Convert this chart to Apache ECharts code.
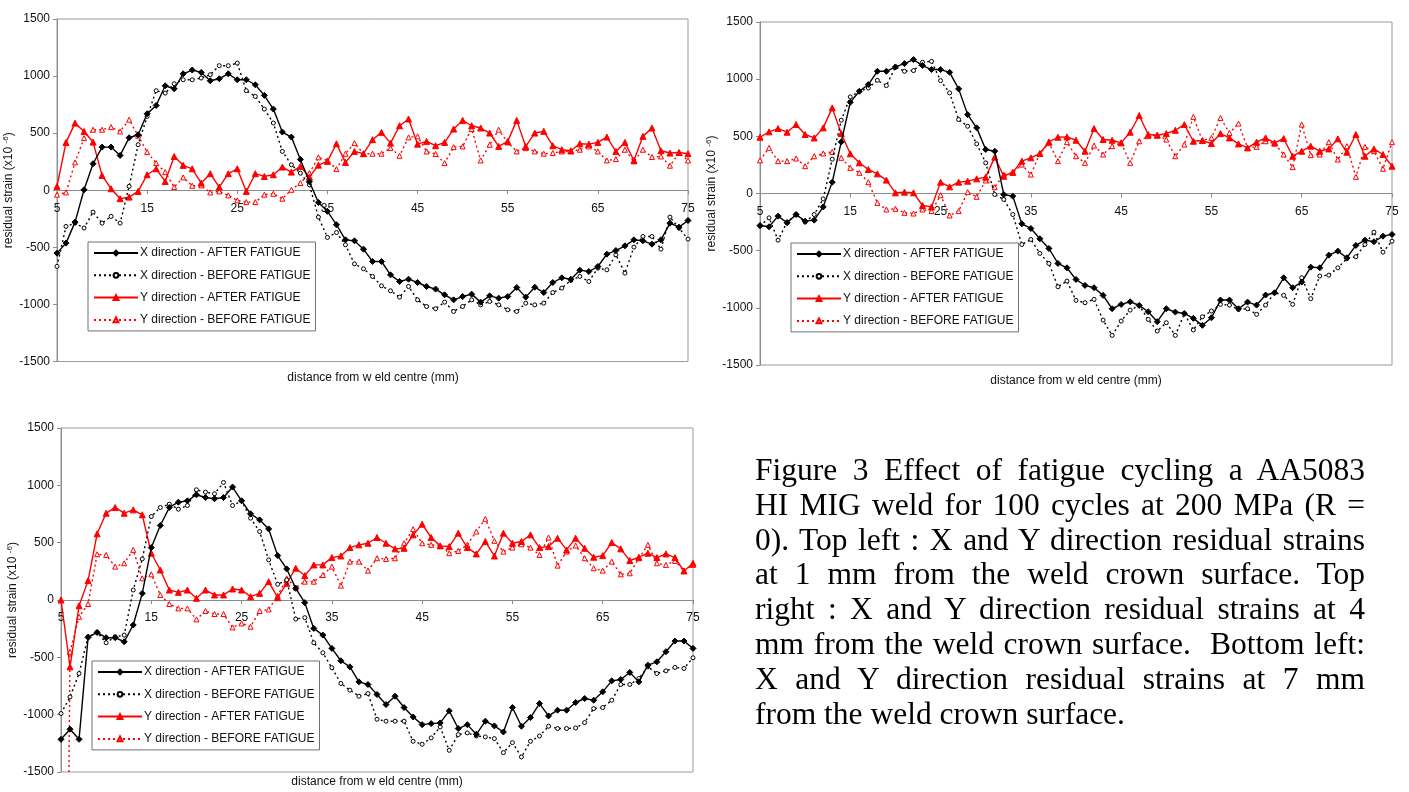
<!DOCTYPE html>
<html>
<head>
<meta charset="utf-8">
<script src="https://cdn.jsdelivr.net/npm/echarts@6/dist/echarts.min.js"></script>
<style>
  html, body { margin: 0; padding: 0; background: #fff; }
  #chart { position: absolute; left: 0; top: 0; width: 1409px; height: 792px; }
  #caption { position: absolute; left: 755px; top: 453px; width: 610px;
    font-family: "Liberation Serif", "Times New Roman", serif; font-size: 31.5px;
    line-height: 34.8px; color: #000; }
  #caption div { text-align: justify; text-align-last: justify; white-space: nowrap; }
  #caption div.last { text-align: left; text-align-last: left; }
</style>
</head>
<body>
<div id="chart"></div>
<div id="caption">
  <div>Figure 3 Effect of fatigue cycling a AA5083</div>
  <div>HI MIG weld for 100 cycles at 200 MPa (R =</div>
  <div>0). Top left : X and Y direction residual strains</div>
  <div>at 1 mm from the weld crown surface. Top</div>
  <div>right : X and Y direction residual strains at 4</div>
  <div>mm from the weld crown surface.&nbsp; Bottom left:</div>
  <div>X and Y direction residual strains at 7 mm</div>
  <div class="last">from the weld crown surface.</div>
</div>
<script>
// distance from weld centre (mm)
const distance = [5,6,7,8,9,10,11,12,13,14,15,16,17,18,19,20,21,22,23,24,25,26,27,28,29,30,31,32,33,34,35,36,37,38,39,40,41,42,43,44,45,46,47,48,49,50,51,52,53,54,55,56,57,58,59,60,61,62,63,64,65,66,67,68,69,70,71,72,73,74,75];
const xTickLabels = ['5','15','25','35','45','55','65','75'];
const yMin = -1500, yMax = 1500, yStep = 500;

const seriesNames = ['X direction - AFTER FATIGUE', 'X direction - BEFORE FATIGUE', 'Y direction - AFTER FATIGUE', 'Y direction - BEFORE FATIGUE'];

// Top left: 1 mm from weld crown surface
const p1XAfter = [-551,-463,-279,4,232,378,378,305,460,486,670,743,915,889,1020,1053,1032,959,977,1020,968,968,924,831,711,510,466,270,74,-107,-185,-302,-434,-443,-516,-624,-624,-741,-799,-779,-808,-843,-866,-916,-960,-931,-910,-980,-925,-945,-931,-852,-936,-849,-896,-808,-767,-779,-700,-712,-668,-560,-528,-487,-434,-443,-472,-434,-288,-323,-265];
const p1XBefore = [-667,-317,-288,-331,-191,-288,-229,-288,34,399,647,872,851,933,968,968,983,1012,1091,1091,1114,872,822,711,589,340,223,150,48,-235,-413,-370,-478,-645,-688,-755,-837,-881,-936,-843,-960,-1018,-1038,-980,-1062,-1018,-960,-1004,-974,-1004,-1047,-1062,-989,-1004,-989,-896,-857,-790,-755,-799,-682,-697,-565,-726,-498,-405,-405,-516,-235,-332,-428];
const p1YAfter = [34,419,588,515,422,130,13,-74,-60,-10,136,188,77,296,218,188,63,145,28,145,188,-10,145,121,136,203,159,209,115,220,253,407,244,340,320,443,507,413,565,624,404,428,390,419,536,612,565,545,501,384,428,612,384,501,516,390,355,346,407,404,419,466,340,419,261,472,545,346,326,331,320];
const p1YBefore = [-39,-19,244,457,530,530,553,515,618,478,334,238,159,28,112,39,42,-19,-10,-45,-89,-104,-104,-39,-31,-74,4,63,150,288,261,185,320,413,320,320,320,369,302,463,472,340,317,238,378,384,536,261,399,530,419,340,369,340,320,326,340,340,355,384,340,261,273,355,253,355,291,296,215,326,261];

// Top right: 4 mm from weld crown surface
const p2XAfter = [-280,-291,-198,-256,-184,-242,-233,-117,99,451,798,894,953,1069,1069,1107,1136,1171,1119,1084,1084,1060,915,690,574,385,370,-9,-23,-265,-306,-396,-481,-612,-650,-752,-804,-824,-891,-1008,-970,-947,-979,-1034,-1121,-1008,-1037,-1049,-1092,-1153,-1087,-932,-932,-1008,-950,-976,-888,-868,-737,-824,-775,-644,-650,-539,-504,-562,-454,-408,-422,-373,-358];
const p2XBefore = [-285,-213,-408,-250,-184,-250,-184,-47,300,641,845,894,923,990,944,1107,1069,1075,1148,1156,987,880,647,588,434,268,-9,-52,-184,-446,-402,-524,-612,-816,-766,-935,-955,-926,-1107,-1241,-1116,-1020,-979,-1101,-1203,-1130,-1241,-1049,-1194,-1078,-1028,-970,-976,-1014,-1008,-1057,-976,-868,-891,-970,-737,-920,-722,-714,-650,-571,-553,-446,-338,-513,-417];
const p2YAfter = [492,539,568,536,603,516,486,574,749,524,347,268,210,172,117,6,12,6,-105,-117,99,58,99,108,128,143,318,151,186,283,312,350,451,492,495,466,370,568,472,466,443,536,682,516,510,524,553,603,457,463,437,524,486,434,399,449,486,443,481,326,370,414,370,390,478,361,516,326,390,341,239];
const p2YBefore = [290,399,283,283,306,239,326,350,364,312,224,181,99,-82,-140,-134,-169,-175,-140,-154,-15,-192,-154,12,-29,114,55,166,181,253,166,350,443,283,449,326,268,419,341,414,443,268,457,501,510,472,326,428,670,463,486,661,530,612,399,408,457,437,341,230,603,335,341,449,297,414,146,408,370,216,449];

// Bottom left: 7 mm from weld crown surface
const p3XAfter = [-1215,-1127,-1215,-326,-283,-329,-329,-364,-218,58,457,650,807,853,865,918,894,883,894,985,865,752,699,620,387,271,102,-23,-248,-306,-422,-530,-583,-714,-737,-824,-912,-839,-938,-1020,-1087,-1078,-1072,-967,-1121,-1087,-1171,-1057,-1098,-1151,-938,-1101,-1025,-903,-1011,-961,-961,-894,-859,-874,-801,-705,-693,-632,-714,-568,-539,-451,-358,-358,-422];
const p3XBefore = [-990,-845,-641,-320,-283,-373,-320,-306,87,358,728,807,836,792,824,961,941,926,1025,824,865,714,597,350,137,175,-166,-154,-373,-460,-591,-728,-786,-839,-816,-1040,-1057,-1057,-1057,-1232,-1258,-1203,-1107,-1311,-1174,-1159,-1186,-1194,-1209,-1331,-1244,-1369,-1232,-1186,-1101,-1121,-1121,-1116,-1069,-947,-938,-874,-737,-737,-685,-583,-641,-618,-588,-597,-504];
const p3YAfter = [0,-583,-50,169,577,757,807,757,786,743,408,262,87,67,87,15,87,44,44,96,87,29,58,160,20,146,277,213,306,306,370,384,457,481,495,545,495,446,451,568,661,545,472,466,583,457,402,510,384,583,495,510,568,457,466,539,437,539,451,373,387,501,446,344,373,408,370,402,370,253,320];
const p3YBefore = [-9000,-452,-146,-35,399,393,291,320,437,189,224,44,-35,-73,-73,-169,-96,-122,-122,-239,-204,-233,-96,-82,38,189,108,160,160,218,291,125,335,335,256,364,358,364,495,618,495,481,472,408,428,481,597,708,516,422,457,486,457,393,545,300,422,475,364,277,256,335,224,233,364,481,320,306,341,253,306];

const panels = [
  [p1XAfter, p1XBefore, p1YAfter, p1YBefore],
  [p2XAfter, p2XBefore, p2YAfter, p2YBefore],
  [p3XAfter, p3XBefore, p3YAfter, p3YBefore]
];

const FONT = '"Liberation Sans", Arial, sans-serif';
const styles = [
  { color: '#000000', type: 'solid', symbol: 'diamond', size: 6, empty: false },
  { color: '#000000', type: [2, 3], symbol: 'circle', size: 4, empty: true },
  { color: '#ff0000', type: 'solid', symbol: 'triangle', size: 6, empty: false },
  { color: '#ff0000', type: [2, 3], symbol: 'triangle', size: 5, empty: true }
];

const grids = [
  { left: 57, top: 19, width: 631, height: 342.5 },
  { left: 760, top: 22, width: 632, height: 343 },
  { left: 61, top: 428, width: 632, height: 344 }
];
const yNameGaps = [32, 33, 34];
const legendPos = [ { left: 88, top: 242 }, { left: 791, top: 243 }, { left: 92, top: 661 } ];
const xNamePos = [ [373, 378], [1076, 381], [377, 782] ];

const xAxes = [], yAxes = [], series = [], legends = [], graphics = [];
grids.forEach((g, i) => {
  Object.assign(g, { show: true, borderColor: '#9a9a9a', borderWidth: 1, containLabel: false });
  xAxes.push({
    type: 'category', gridIndex: i, data: distance, boundaryGap: false,
    position: 'bottom', offset: -g.height / 2,
    axisLine: { onZero: false, lineStyle: { color: '#8c8c8c', width: 1 } },
    axisTick: { show: true, interval: 9, length: 4, lineStyle: { color: '#8c8c8c' } },
    axisLabel: { interval: 9, margin: 12, fontSize: 12, fontFamily: FONT, color: '#111',
      formatter: v => (xTickLabels.indexOf(String(v)) >= 0 ? String(v) : '') },
    splitLine: { show: false }
  });
  yAxes.push({
    type: 'value', gridIndex: i, min: yMin, max: yMax, interval: yStep,
    axisLine: { show: true, lineStyle: { color: '#8c8c8c', width: 1 } },
    axisTick: { show: true, length: 4, lineStyle: { color: '#8c8c8c' } },
    axisLabel: { margin: 7, fontSize: 12, fontFamily: FONT, color: '#111', formatter: v => String(v) },
    splitLine: { show: false },
    name: '{a|residual strain (x10 }{b|-6}{a|)}',
    nameLocation: 'middle', nameGap: yNameGaps[i], nameRotate: 90,
    nameTextStyle: { fontFamily: FONT, fontSize: 12, color: '#111',
      rich: { a: { fontFamily: FONT, fontSize: 12, color: '#111', lineHeight: 14 },
              b: { fontFamily: FONT, fontSize: 8, color: '#111', verticalAlign: 'top', lineHeight: 14, padding: [0, 0, 6, 0] } } }
  });
  panels[i].forEach((vals, k) => {
    const s = styles[k];
    series.push({
      type: 'line', name: seriesNames[k], xAxisIndex: i, yAxisIndex: i,
      data: vals, clip: true, animation: false,
      symbol: s.symbol, symbolSize: s.size, showAllSymbol: true,
      lineStyle: { color: s.color, width: 1.4, type: s.type },
      itemStyle: { color: s.empty ? '#ffffff' : s.color, borderColor: s.color, borderWidth: 1 },
      emphasis: { disabled: true },
      z: 10 - k
    });
  });
  legends.push({
    orient: 'vertical', left: legendPos[i].left, top: legendPos[i].top,
    data: seriesNames, backgroundColor: '#fff', borderColor: '#707070', borderWidth: 1,
    padding: [5, 5, 5, 5], itemGap: 10.3, itemWidth: 44, itemHeight: 6,
    selectedMode: false,
    textStyle: { fontFamily: FONT, fontSize: 12, color: '#111', padding: [0, 0, 0, -3] }
  });
  graphics.push({
    type: 'text', x: xNamePos[i][0], y: xNamePos[i][1],
    style: { text: 'distance from w eld centre (mm)', font: '12px ' + FONT, fill: '#111',
      align: 'center', verticalAlign: 'middle' }
  });
});

const chart = echarts.init(document.getElementById('chart'), null, { renderer: 'canvas' });
chart.setOption({
  backgroundColor: '#fff',
  animation: false,
  grid: grids,
  xAxis: xAxes,
  yAxis: yAxes,
  legend: legends,
  series: series,
  graphic: graphics
});
</script>
</body>
</html>
